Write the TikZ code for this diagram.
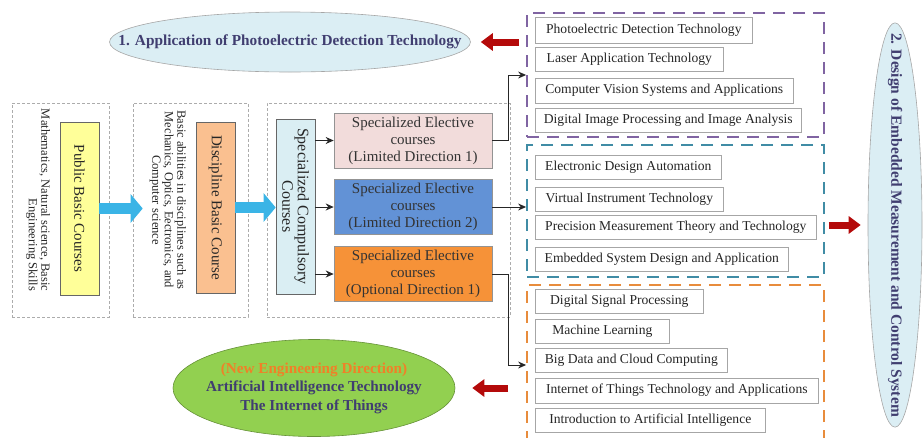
\documentclass[tikz,border=0pt]{standalone}
\usepackage{fontspec}
\setmainfont{Liberation Serif}
\usetikzlibrary{%
  arrows.meta,%
  shapes.geometric,% wg. ellipse
  positioning%
}

\definecolor{ellblue}{RGB}{219,238,244}
\definecolor{titlenavy}{RGB}{64,62,112}
\definecolor{pubyellow}{RGB}{255,255,153}
\definecolor{discpeach}{RGB}{250,192,144}
\definecolor{comppale}{RGB}{218,238,243}
\definecolor{ldpink}{RGB}{242,220,219}
\definecolor{ldblue}{RGB}{98,146,214}
\definecolor{optorange}{RGB}{246,146,56}
\definecolor{aigreen}{RGB}{146,208,80}
\definecolor{neworange}{RGB}{240,128,40}
\definecolor{flowcyan}{RGB}{58,180,230}
\definecolor{darkred}{RGB}{180,10,10}
\definecolor{grppurple}{RGB}{128,100,162}
\definecolor{grpteal}{RGB}{64,140,165}
\definecolor{grporange}{RGB}{232,140,60}

\begin{document}
\begin{tikzpicture}[
  x=1pt, y=-1pt, line width=0.6pt, >={Stealth[length=8pt,width=7pt]},
  outerbox/.style={rectangle, draw=gray!65, densely dashed, line width=0.6pt},
  grpbox/.style={rectangle, dash pattern=on 12pt off 8pt, line width=1.8pt},
  vbox/.style={rectangle, draw=gray!80!black, rotate=-90, font=\fontsize{15}{17}\selectfont, align=center, inner sep=0pt, text=black!85},
  vnote/.style={rotate=-90, font=\fontsize{12.5}{12.5}\selectfont, text=black!85, inner sep=0pt},
  elective/.style={rectangle, draw=gray!85, minimum width=158pt, minimum height=55pt, align=center, font=\fontsize{15}{17}\selectfont, text=black!80},
  course/.style={rectangle, draw=gray!70, fill=white, anchor=west, minimum height=24pt, font=\fontsize{13.6}{15}\selectfont, text=black!85},
  bubble/.style={ellipse, draw=gray!70, inner ysep=0pt, text=titlenavy, align=center},
  flow/.style={draw=flowcyan, line width=11pt, -{Triangle[length=12pt,width=28pt]}},
  redarr/.style={draw=darkred, line width=7pt, -{Triangle[length=12pt,width=17pt]}},
  link/.style={->, line width=1pt, draw=black!85}
]
\useasboundingbox (0,0) rectangle (924,437);

% stages on the left
\node[outerbox, minimum width=97pt, minimum height=214pt] (stage1) at (60.5,210) {};
\node[outerbox, minimum width=115pt, minimum height=214pt] (stage2) at (190.5,210) {};
\node[outerbox, minimum width=243pt, minimum height=214pt] (stage3) at (388.5,210) {};

\node[vbox, fill=pubyellow, minimum width=173pt, minimum height=39pt] (pub) at (79.5,208.5) {Public Basic Courses};
\node[vnote, align=right] (pubnote) at (38,200) {Mathematics, Natural science, Basic\\Engineering Skills};
\node[vbox, fill=discpeach, minimum width=171pt, minimum height=39pt] (disc) at (215.5,207.5) {Discipline Basic Course};
\node[vnote, align=center] (discnote) at (168,200) {Basic abilities in disciplines such as\\Mechanics, Optics, Eectronics, and\\Computer science};
\node[vbox, fill=comppale, minimum width=175pt, minimum height=39pt, font=\fontsize{16}{15.5}\selectfont] (comp) at (295.5,206.5) {Specialized Compulsory\\Courses};

\node[elective, fill=ldpink] (ld1) at (413,140.5) {Specialized Elective\\courses\\(Limited Direction 1)};
\node[elective, fill=ldblue] (ld2) at (413,207) {Specialized Elective\\courses\\(Limited Direction 2)};
\node[elective, fill=optorange] (opt) at (413,274) {Specialized Elective\\courses\\(Optional Direction 1)};

% course groups
\node[grpbox, draw=grppurple, minimum width=297pt, minimum height=124pt] (grpA) at (675.5,75) {};
\node[grpbox, draw=grpteal, minimum width=297pt, minimum height=132pt] (grpB) at (675.5,211) {};
\node[grpbox, draw=grporange, minimum width=297pt, minimum height=160pt] (grpC) at (675.5,365) {};

\node[course, minimum width=217pt, minimum height=26pt] (a1) at (535,30) {Photoelectric Detection Technology};
\node[course, minimum width=188pt] (a2) at (535,59) {Laser Application Technology};
\node[course, minimum width=258pt, minimum height=25pt] (a3) at (535,90.5) {Computer Vision Systems and Applications};
\node[course, minimum width=266pt] (a4) at (535,120) {Digital Image Processing and Image Analysis};

\node[course, minimum width=186pt] (b1) at (535,167) {Electronic Design Automation};
\node[course, minimum width=188pt] (b2) at (535,199) {Virtual Instrument Technology};
\node[course, minimum width=281pt] (b3) at (535,227.5) {Precision Measurement Theory and Technology};
\node[course, minimum width=253pt] (b4) at (535,259) {Embedded System Design and Application};

\node[course, minimum width=168pt] (c1) at (535,301) {Digital Signal Processing};
\node[course, minimum width=134pt] (c2) at (535,331) {Machine Learning};
\node[course, minimum width=192pt] (c3) at (535,360) {Big Data and Cloud Computing};
\node[course, minimum width=283pt, minimum height=25pt] (c4) at (535,390.5) {Internet of Things Technology and Applications};
\node[course, minimum width=230pt] (c5) at (535,420) {Introduction to Artificial Intelligence};

% directions (negative xsep keeps the ellipses at their size)
\node[bubble, fill=ellblue, inner xsep=-44pt, minimum height=60pt, font=\bfseries\fontsize{15.3}{17}\selectfont] (app) at (290,42) {1. Application of Photoelectric Detection Technology};
\node[bubble, fill=ellblue, rotate=-90, inner xsep=-49pt, minimum height=54pt, font=\bfseries\fontsize{15.5}{17}\selectfont] (sys) at (895,225) {2. Design of Embedded Measurement and Control System};
\node[bubble, fill=aigreen, draw=aigreen!70!black, inner xsep=-10pt, minimum width=282pt, minimum height=97pt, font=\bfseries\fontsize{15.2}{18.5}\selectfont] (ai) at (314,388) {\textcolor{neworange}{(New Engineering Direction)}\\Artificial Intelligence Technology\\The Internet of Things};

% rotated nodes: north is the visual right side, south the left side
\draw[flow] (pub.north) -- ([xshift=10pt]stage2.west |- pub.north);
\draw[flow] (disc.north) -- (comp.south |- disc.north);

\foreach \e in {ld1,ld2,opt} {
  \draw[link] (comp.north |- \e.west) -- (\e.west);
}

\draw[link] (ld1.east) -- ++(16,0) |- (grpA.west);
\draw[link] (ld2.east) -- (ld2.east -| grpB.west);
\draw[link] (opt.east) -- ++(16,0) |- (grpC.west);

\draw[redarr] ([xshift=-7pt]grpA.west |- app.east) -- ([xshift=10pt]app.east);
\draw[redarr] ([xshift=4pt]grpB.east |- sys.south) -- ([xshift=-7pt]sys.south);
\draw[redarr] ([xshift=-18pt]grpC.west |- ai.east) -- ([xshift=17pt]ai.east);

\end{tikzpicture}
\end{document}
